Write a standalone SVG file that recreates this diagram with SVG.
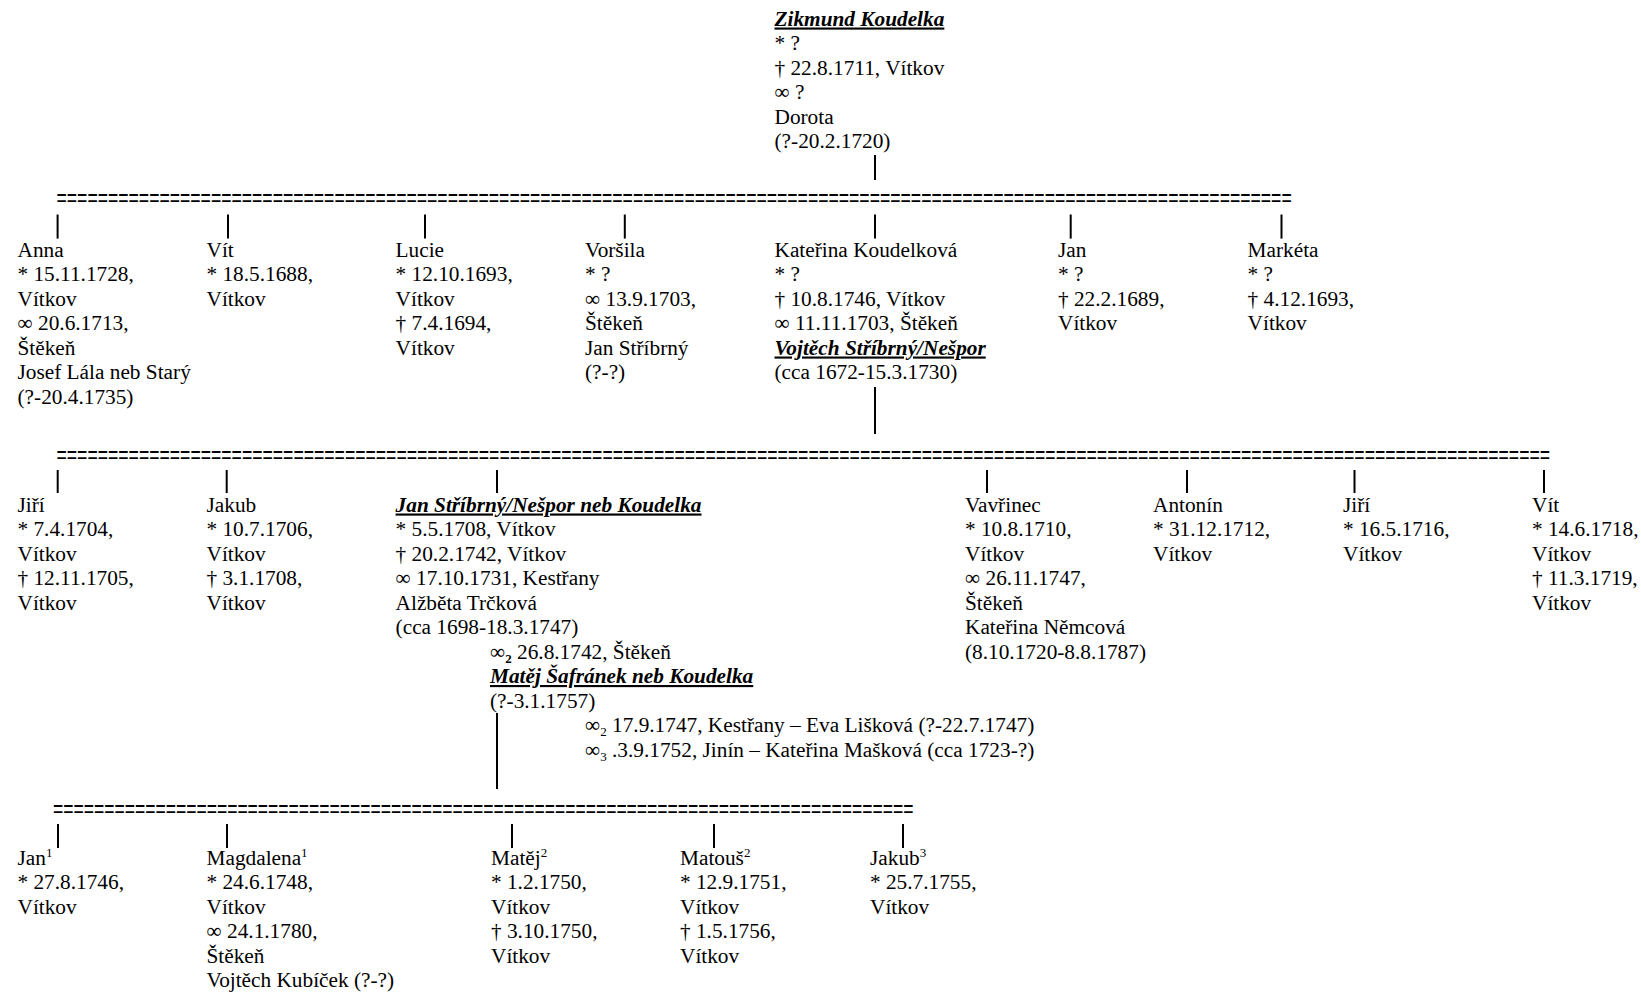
<svg xmlns="http://www.w3.org/2000/svg" width="1641" height="992" viewBox="0 0 1641 992">
<style>
text{font-family:"Liberation Serif","Times New Roman",serif;font-size:21.3px;fill:#000}
.nm{font-weight:bold;font-style:italic;text-decoration:underline}
.eq{font-family:"Liberation Sans",Arial,sans-serif;font-size:17.6px}
.bar{stroke:#000;stroke-width:2;fill:none}
.sup{font-size:13px}
</style>
<rect width="1641" height="992" fill="#fff"/>
<g id="connectors">
<line class="bar" x1="875" y1="155" x2="875" y2="180"/>
<text class="eq" transform="translate(56.5,205.5) scale(1.002,1.5)" x="0" y="0">========================================================================================================================</text>
<g>
<line class="bar" x1="57.6" y1="214.5" x2="57.6" y2="238.6"/>
<line class="bar" x1="228" y1="214.5" x2="228" y2="238.6"/>
<line class="bar" x1="425" y1="214.5" x2="425" y2="238.6"/>
<line class="bar" x1="624.8" y1="214.5" x2="624.8" y2="238.6"/>
<line class="bar" x1="875" y1="214.5" x2="875" y2="238.6"/>
<line class="bar" x1="1070.7" y1="214.5" x2="1070.7" y2="238.6"/>
<line class="bar" x1="1281.5" y1="214.5" x2="1281.5" y2="238.6"/>
</g>
<line class="bar" x1="875" y1="387" x2="875" y2="434"/>
<text class="eq" transform="translate(56.5,462.5) scale(1.003,1.5)" x="0" y="0">=================================================================================================================================================</text>
<g>
<line class="bar" x1="57.7" y1="470" x2="57.7" y2="493"/>
<line class="bar" x1="226.7" y1="470" x2="226.7" y2="493"/>
<line class="bar" x1="497" y1="470" x2="497" y2="493"/>
<line class="bar" x1="987" y1="470" x2="987" y2="493"/>
<line class="bar" x1="1187" y1="470" x2="1187" y2="493"/>
<line class="bar" x1="1354.5" y1="470" x2="1354.5" y2="493"/>
<line class="bar" x1="1544" y1="470" x2="1544" y2="493"/>
</g>
<line class="bar" x1="497" y1="713" x2="497" y2="789"/>
<text class="eq" transform="translate(53,816.5) scale(0.997,1.5)" x="0" y="0">====================================================================================</text>
<g>
<line class="bar" x1="58" y1="824" x2="58" y2="848"/>
<line class="bar" x1="227" y1="824" x2="227" y2="848"/>
<line class="bar" x1="512" y1="824" x2="512" y2="848"/>
<line class="bar" x1="714" y1="824" x2="714" y2="848"/>
<line class="bar" x1="903" y1="824" x2="903" y2="848"/>
</g>
</g>
<g id="zikmund">
<text x="774.5" y="25.5"><tspan class="nm">Zikmund Koudelka</tspan><tspan x="774.5" dy="24.5">* ?</tspan><tspan x="774.5" dy="24.5">† 22.8.1711, Vítkov</tspan><tspan x="774.5" dy="24.5">∞ ?</tspan><tspan x="774.5" dy="24.5">Dorota</tspan><tspan x="774.5" dy="24.5">(?-20.2.1720)</tspan></text>
</g>
<g id="anna">
<text x="17.5" y="256.5">Anna<tspan x="17.5" dy="24.5">* 15.11.1728,</tspan><tspan x="17.5" dy="24.5">Vítkov</tspan><tspan x="17.5" dy="24.5">∞ 20.6.1713,</tspan><tspan x="17.5" dy="24.5">Štěkeň</tspan><tspan x="17.5" dy="24.5">Josef Lála neb Starý</tspan><tspan x="17.5" dy="24.5">(?-20.4.1735)</tspan></text>
</g>
<g id="vit1">
<text x="206.5" y="256.5">Vít<tspan x="206.5" dy="24.5">* 18.5.1688,</tspan><tspan x="206.5" dy="24.5">Vítkov</tspan></text>
</g>
<g id="lucie">
<text x="395.6" y="256.5">Lucie<tspan x="395.6" dy="24.5">* 12.10.1693,</tspan><tspan x="395.6" dy="24.5">Vítkov</tspan><tspan x="395.6" dy="24.5">† 7.4.1694,</tspan><tspan x="395.6" dy="24.5">Vítkov</tspan></text>
</g>
<g id="vorsila">
<text x="585" y="256.5">Voršila<tspan x="585" dy="24.5">* ?</tspan><tspan x="585" dy="24.5">∞ 13.9.1703,</tspan><tspan x="585" dy="24.5">Štěkeň</tspan><tspan x="585" dy="24.5">Jan Stříbrný</tspan><tspan x="585" dy="24.5">(?-?)</tspan></text>
</g>
<g id="katerina">
<text x="774.5" y="256.5">Kateřina Koudelková<tspan x="774.5" dy="24.5">* ?</tspan><tspan x="774.5" dy="24.5">† 10.8.1746, Vítkov</tspan><tspan x="774.5" dy="24.5">∞ 11.11.1703, Štěkeň</tspan><tspan x="774.5" dy="24.5" class="nm">Vojtěch Stříbrný/Nešpor</tspan><tspan x="774.5" dy="24.5">(cca 1672-15.3.1730)</tspan></text>
</g>
<g id="jan1">
<text x="1058" y="256.5">Jan<tspan x="1058" dy="24.5">* ?</tspan><tspan x="1058" dy="24.5">† 22.2.1689,</tspan><tspan x="1058" dy="24.5">Vítkov</tspan></text>
</g>
<g id="marketa">
<text x="1247.6" y="256.5">Markéta<tspan x="1247.6" dy="24.5">* ?</tspan><tspan x="1247.6" dy="24.5">† 4.12.1693,</tspan><tspan x="1247.6" dy="24.5">Vítkov</tspan></text>
</g>
<g id="jiri1">
<text x="17.5" y="511.5">Jiří<tspan x="17.5" dy="24.5">* 7.4.1704,</tspan><tspan x="17.5" dy="24.5">Vítkov</tspan><tspan x="17.5" dy="24.5">† 12.11.1705,</tspan><tspan x="17.5" dy="24.5">Vítkov</tspan></text>
</g>
<g id="jakub1">
<text x="206.5" y="511.5">Jakub<tspan x="206.5" dy="24.5">* 10.7.1706,</tspan><tspan x="206.5" dy="24.5">Vítkov</tspan><tspan x="206.5" dy="24.5">† 3.1.1708,</tspan><tspan x="206.5" dy="24.5">Vítkov</tspan></text>
</g>
<g id="jan-stribrny">
<text x="395.6" y="511.5"><tspan class="nm">Jan Stříbrný/Nešpor neb Koudelka</tspan><tspan x="395.6" dy="24.5">* 5.5.1708, Vítkov</tspan><tspan x="395.6" dy="24.5">† 20.2.1742, Vítkov</tspan><tspan x="395.6" dy="24.5">∞ 17.10.1731, Kestřany</tspan><tspan x="395.6" dy="24.5">Alžběta Trčková</tspan><tspan x="395.6" dy="24.5">(cca 1698-18.3.1747)</tspan></text>
<text x="490" y="658.5">∞<tspan class="sup" font-weight="bold" dy="4">2</tspan><tspan dy="-4"> 26.8.1742, Štěkeň</tspan></text>
<text x="490" y="683" class="nm">Matěj Šafránek neb Koudelka</text>
<text x="490" y="707.5">(?-3.1.1757)</text>
<text x="585" y="732">∞<tspan class="sup" dy="4">2</tspan><tspan dy="-4"> 17.9.1747, Kestřany – Eva Lišková (?-22.7.1747)</tspan></text>
<text x="585" y="756.5">∞<tspan class="sup" dy="4">3</tspan><tspan dy="-4"> .3.9.1752, Jinín – Kateřina Mašková (cca 1723-?)</tspan></text>
</g>
<g id="vavrinec">
<text x="965" y="511.5">Vavřinec<tspan x="965" dy="24.5">* 10.8.1710,</tspan><tspan x="965" dy="24.5">Vítkov</tspan><tspan x="965" dy="24.5">∞ 26.11.1747,</tspan><tspan x="965" dy="24.5">Štěkeň</tspan><tspan x="965" dy="24.5">Kateřina Němcová</tspan><tspan x="965" dy="24.5">(8.10.1720-8.8.1787)</tspan></text>
</g>
<g id="antonin">
<text x="1153" y="511.5">Antonín<tspan x="1153" dy="24.5">* 31.12.1712,</tspan><tspan x="1153" dy="24.5">Vítkov</tspan></text>
</g>
<g id="jiri2">
<text x="1343" y="511.5">Jiří<tspan x="1343" dy="24.5">* 16.5.1716,</tspan><tspan x="1343" dy="24.5">Vítkov</tspan></text>
</g>
<g id="vit2">
<text x="1532" y="511.5">Vít<tspan x="1532" dy="24.5">* 14.6.1718,</tspan><tspan x="1532" dy="24.5">Vítkov</tspan><tspan x="1532" dy="24.5">† 11.3.1719,</tspan><tspan x="1532" dy="24.5">Vítkov</tspan></text>
</g>
<g id="jan2">
<text x="17.5" y="864.5">Jan<tspan class="sup" dy="-8">1</tspan><tspan x="17.5" dy="32.5">* 27.8.1746,</tspan><tspan x="17.5" dy="24.5">Vítkov</tspan></text>
</g>
<g id="magdalena">
<text x="206.5" y="864.5">Magdalena<tspan class="sup" dy="-8">1</tspan><tspan x="206.5" dy="32.5">* 24.6.1748,</tspan><tspan x="206.5" dy="24.5">Vítkov</tspan><tspan x="206.5" dy="24.5">∞ 24.1.1780,</tspan><tspan x="206.5" dy="24.5">Štěkeň</tspan><tspan x="206.5" dy="24.5">Vojtěch Kubíček (?-?)</tspan></text>
</g>
<g id="matej">
<text x="491" y="864.5">Matěj<tspan class="sup" dy="-8">2</tspan><tspan x="491" dy="32.5">* 1.2.1750,</tspan><tspan x="491" dy="24.5">Vítkov</tspan><tspan x="491" dy="24.5">† 3.10.1750,</tspan><tspan x="491" dy="24.5">Vítkov</tspan></text>
</g>
<g id="matous">
<text x="680" y="864.5">Matouš<tspan class="sup" dy="-8">2</tspan><tspan x="680" dy="32.5">* 12.9.1751,</tspan><tspan x="680" dy="24.5">Vítkov</tspan><tspan x="680" dy="24.5">† 1.5.1756,</tspan><tspan x="680" dy="24.5">Vítkov</tspan></text>
</g>
<g id="jakub3">
<text x="870" y="864.5">Jakub<tspan class="sup" dy="-8">3</tspan><tspan x="870" dy="32.5">* 25.7.1755,</tspan><tspan x="870" dy="24.5">Vítkov</tspan></text>
</g>
</svg>
